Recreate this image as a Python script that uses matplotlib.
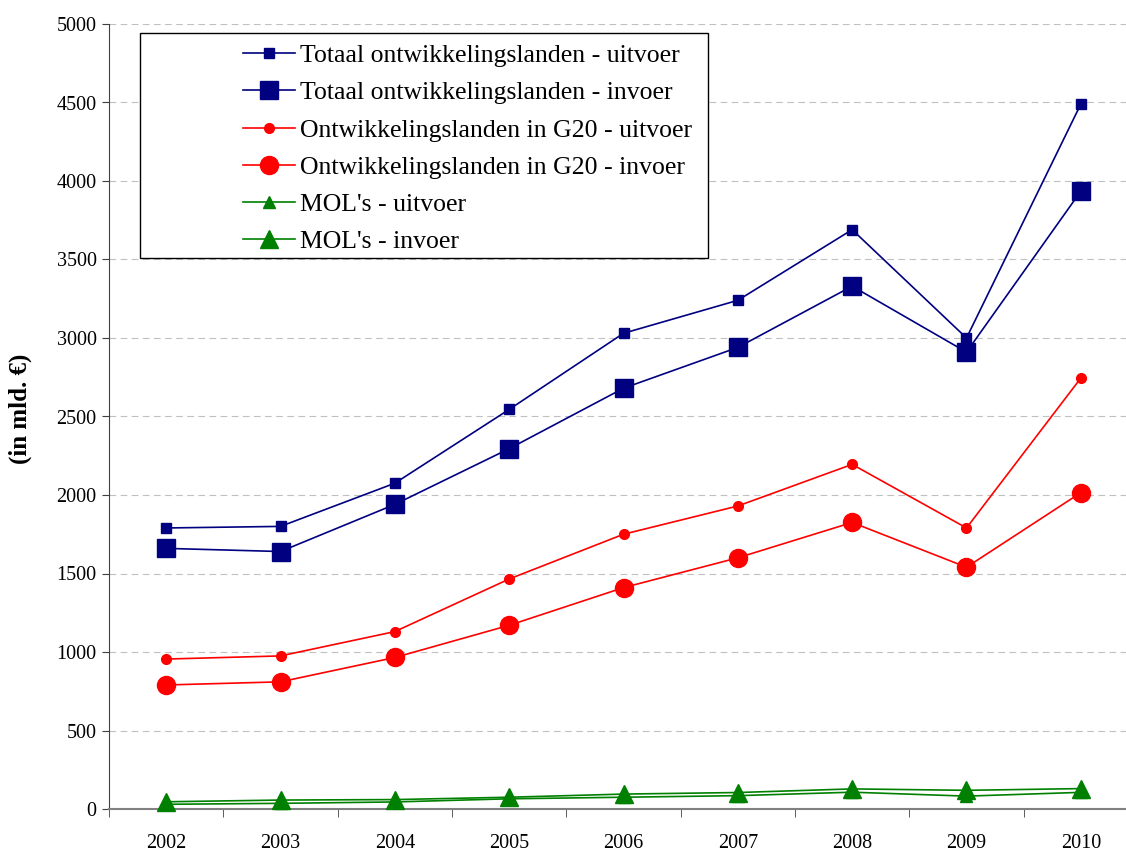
import matplotlib
matplotlib.use("Agg")
import matplotlib.pyplot as plt
from matplotlib.patches import Rectangle
import numpy as np

plt.rcParams.update({
    "font.family": ["Liberation Serif", "DejaVu Serif"],
    "font.size": 14,
})

years = ["2002", "2003", "2004", "2005", "2006", "2007", "2008", "2009", "2010"]

totaal_uitvoer = [1790, 1800, 2075, 2545, 3030, 3240, 3690, 3000, 4490]
totaal_invoer = [1660, 1640, 1940, 2295, 2680, 2940, 3330, 2910, 3935]
g20_uitvoer = [955, 975, 1130, 1465, 1750, 1930, 2195, 1790, 2745]
g20_invoer = [790, 810, 965, 1170, 1410, 1600, 1825, 1540, 2015]
mol_uitvoer = [30, 36, 45, 65, 75, 85, 107, 82, 106]
mol_invoer = [46, 57, 60, 75, 95, 105, 128, 119, 130]

series = [
    ("Totaal ontwikkelingslanden - uitvoer", totaal_uitvoer, "#000080", "s", 7),
    ("Totaal ontwikkelingslanden - invoer", totaal_invoer, "#000080", "s", 12.5),
    ("Ontwikkelingslanden in G20 - uitvoer", g20_uitvoer, "#FF0000", "o", 7),
    ("Ontwikkelingslanden in G20 - invoer", g20_invoer, "#FF0000", "o", 13),
    ("MOL's - uitvoer", mol_uitvoer, "#008000", "^", 8),
    ("MOL's - invoer", mol_invoer, "#008000", "^", 13),
]

fig = plt.figure(figsize=(11.26, 8.55), dpi=100)
ax = fig.add_axes([109 / 1126, 1 - 809 / 855, 1029 / 1126, 785 / 855])

x = np.arange(len(years))
handles = []
for label, vals, color, marker, ms in series:
    h, = ax.plot(x, vals, color=color, marker=marker, markersize=ms,
                 linewidth=1.2, label=label, clip_on=False, zorder=3)
    handles.append(h)

ax.set_xlim(-0.5, len(years) - 0.5)
ax.set_ylim(0, 5000)
ax.set_yticks(np.arange(0, 5001, 500))
ax.set_xticks(x)
ax.set_xticklabels(years)
ax.set_xticks(np.arange(-0.5, len(years), 1.0), minor=True)
ax.tick_params(axis="x", which="major", length=0, pad=18, labelsize=14.5)
ax.tick_params(axis="x", which="minor", length=6, direction="out", color="#404040")
ax.tick_params(axis="y", length=5, direction="out", labelsize=14.5, color="#404040", pad=4)

ax.yaxis.grid(True, linestyle=(0, (6, 4)), color="#c0c0c0", linewidth=0.8)
ax.set_axisbelow(True)
for s in ["top", "right"]:
    ax.spines[s].set_visible(False)
ax.spines["left"].set_color("#404040")
ax.spines["bottom"].set_color("#808080")
ax.spines["bottom"].set_linewidth(1.5)

fig.text(20 / 1126, 1 - 409 / 855, "(in mld. €)", rotation=90, fontweight="bold",
         fontsize=18, ha="center", va="center")

# legend box
fig.patches.append(Rectangle((140 / 1126, 1 - 258 / 855), 568 / 1126, 225 / 855,
                             transform=fig.transFigure, facecolor="white",
                             edgecolor="black", linewidth=1.0, zorder=5))
leg = fig.legend(handles=handles, loc="upper left",
                 bbox_to_anchor=(233 / 1126, 1 - 34 / 855),
                 frameon=False, fontsize=18.5, handlelength=2.0,
                 handletextpad=0.2, labelspacing=0.55, borderaxespad=0)
leg.set_zorder(6)

fig.savefig("out.png", dpi=100)
